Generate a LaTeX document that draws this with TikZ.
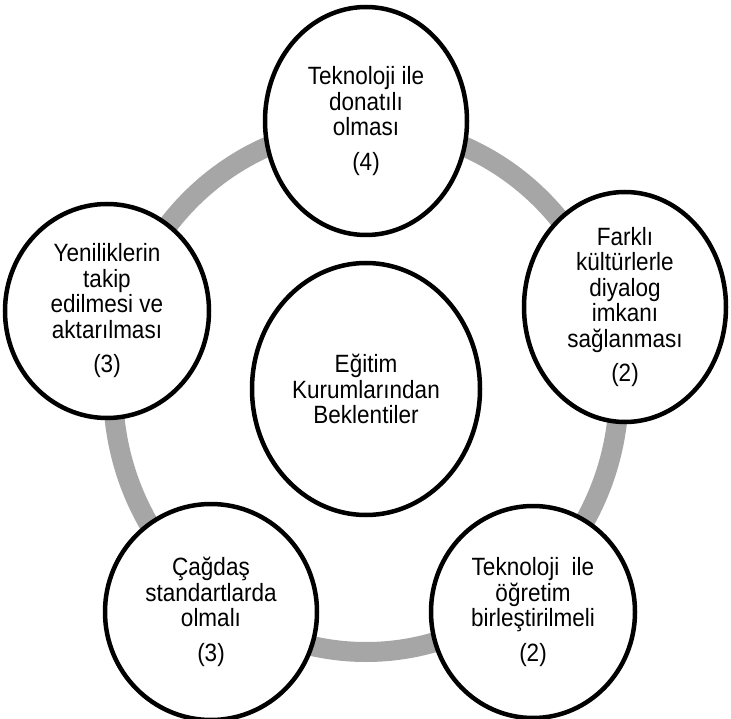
\documentclass[tikz,border=0pt]{standalone}
\usepackage{fontspec}
\setmainfont{Liberation Sans}[FakeStretch=0.9]
\usetikzlibrary{shapes.geometric}
\definecolor{ringgray}{RGB}{166,166,166}
\begin{document}
\begin{tikzpicture}[x=1pt,y=-1pt,
  blob/.style={ellipse, draw=black, line width=4.5pt, fill=white, inner sep=0pt,
    align=center, font=\fontsize{25}{25.5}\selectfont},
  ringline/.style={draw=ringgray, line width=20pt}]
\useasboundingbox (0,0) rectangle (731,719);
\clip (0,0) rectangle (731,719);
\coordinate (hub) at (366,389);
\draw[ringline] (hub) ellipse[x radius=253pt, y radius=263pt];
\node[blob, minimum width=202pt, minimum height=228pt] (top) at (366,121)
  {Teknoloji ile\\donatılı\\olması\\[9pt](4)};
\node[blob, minimum width=202pt, minimum height=230pt] (right) at (625,307)
  {Farklı\\kültürlerle\\diyalog\\imkanı\\sağlanması\\[9pt](2)};
\node[blob, minimum width=204pt, minimum height=212pt] (bright) at (533,612)
  {Teknoloji\ \ ile\\öğretim\\birleştirilmeli\\[9pt](2)};
\node[blob, minimum width=212pt, minimum height=216pt] (bleft) at (211,612)
  {Çağdaş\\standartlarda\\olmalı\\[9pt](3)};
\node[blob, minimum width=204pt, minimum height=214pt] (left) at (107,311)
  {Yeniliklerin\\takip\\edilmesi ve\\aktarılması\\[9pt](3)};
\node[blob, minimum width=228pt, minimum height=252pt] (center) at (366,389)
  {Eğitim\\Kurumlarından\\Beklentiler};
\end{tikzpicture}
\end{document}
